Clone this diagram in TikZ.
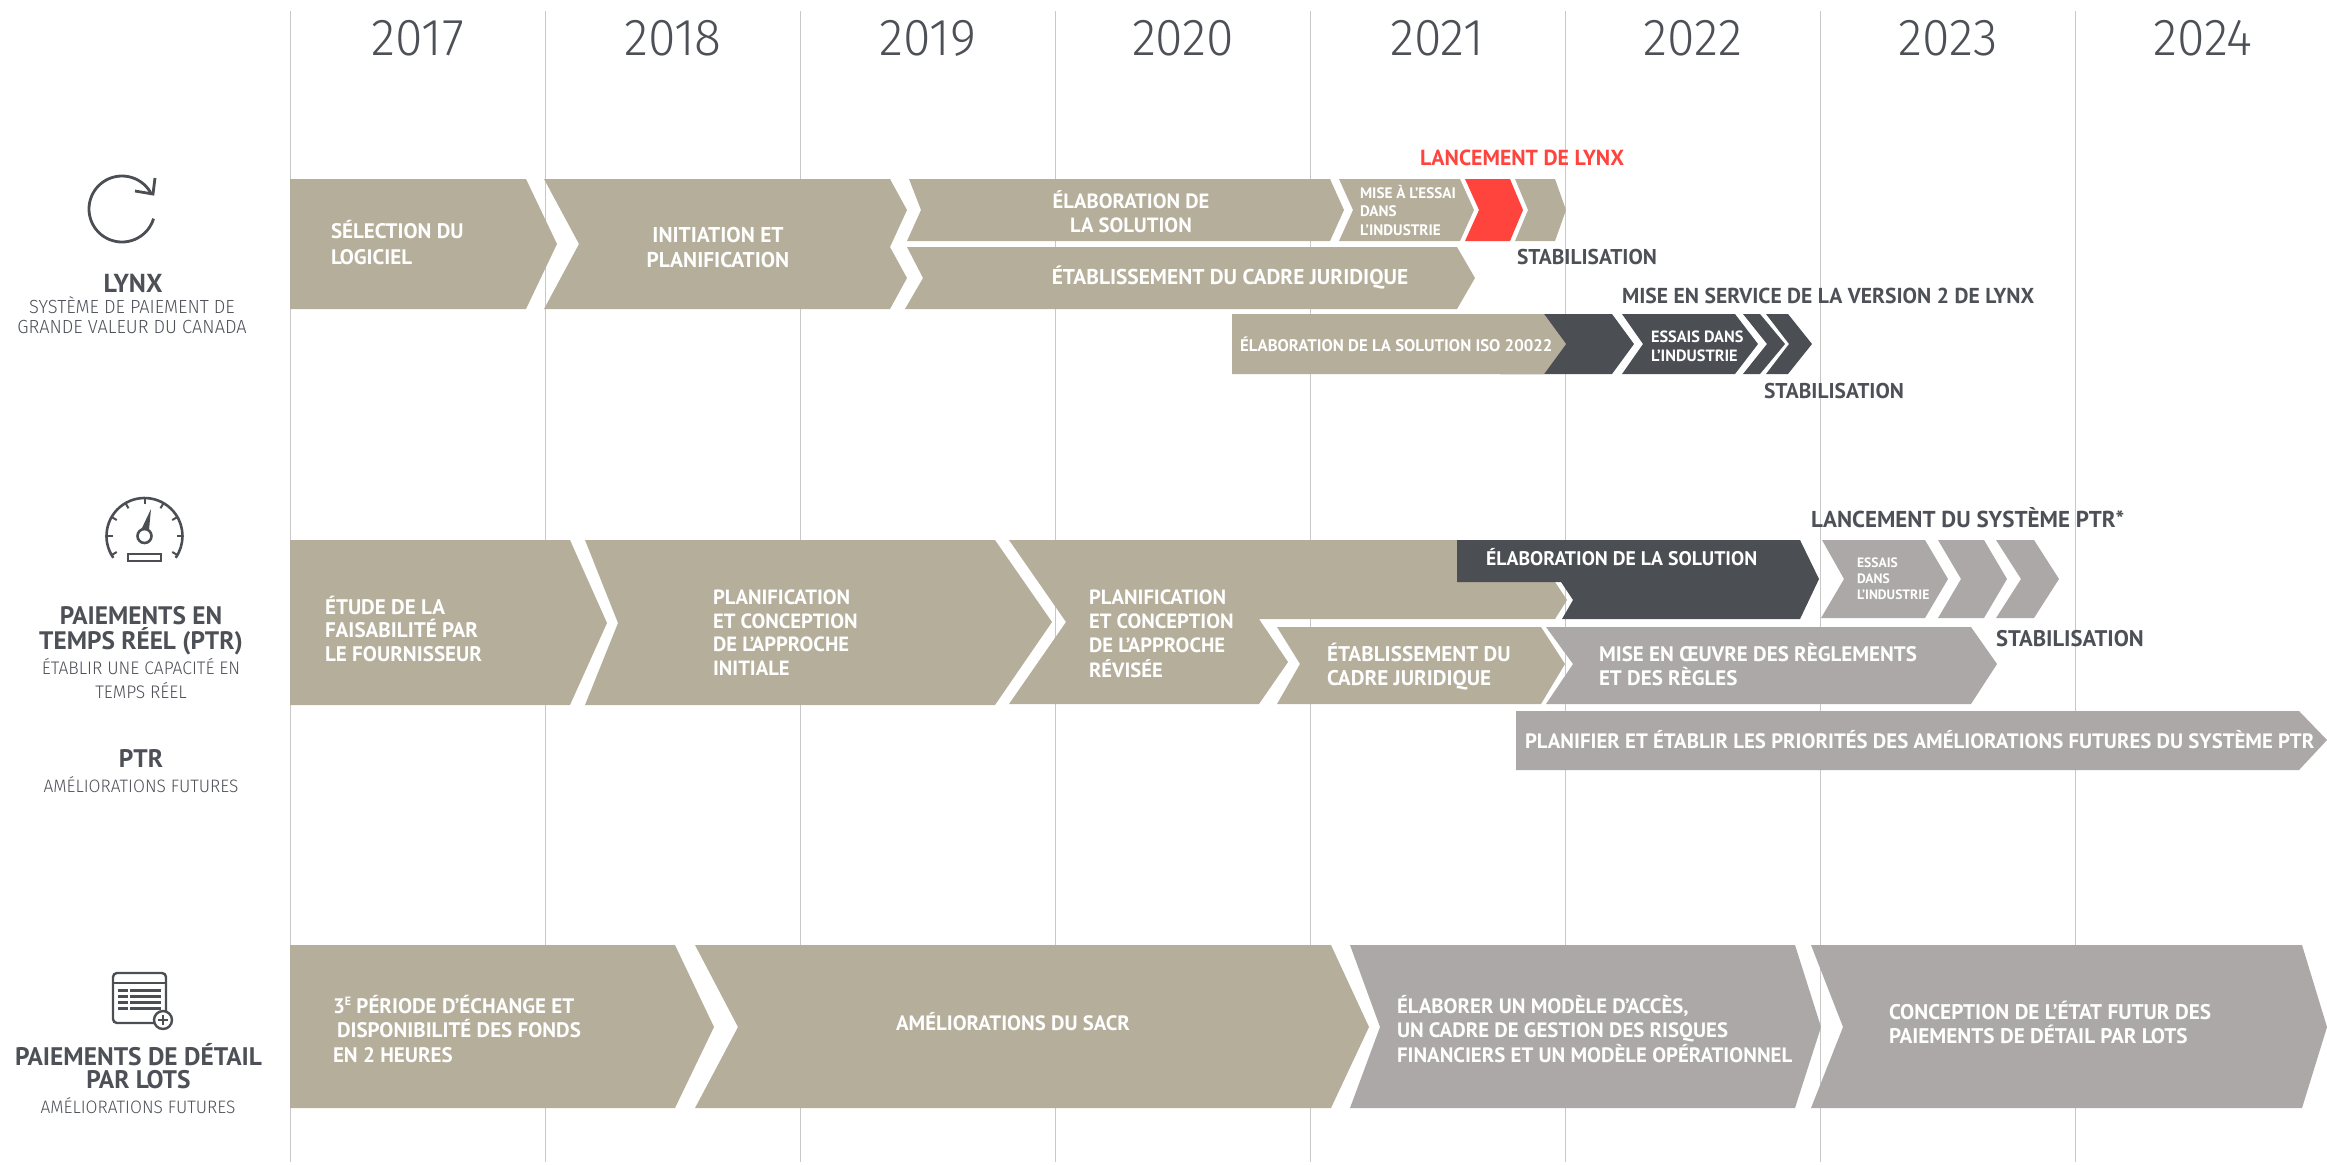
\documentclass[tikz,border=0pt]{standalone}
\usepackage{fontspec}
\setmainfont{PT Sans}
\newfontfamily\lightf[FakeStretch=0.96]{Fira Sans Light}
\definecolor{tan}{HTML}{B5AE9B}
\definecolor{gry}{HTML}{ACA8A7}
\definecolor{drk}{HTML}{4B4E53}
\definecolor{rdd}{HTML}{FF433D}
\definecolor{txt}{HTML}{4D5056}
\definecolor{grid}{HTML}{C8C8C8}
\newcommand\fb[2]{\fontsize{#1}{#2}\selectfont\bfseries}
\newcommand\fl[2]{\fontsize{#1}{#2}\selectfont\lightf}
\tikzset{
 x=0.5pt,y=-0.5pt,
 lab/.style={inner sep=0pt,outer sep=0pt,anchor=base west,align=left,text=white},
 ctr/.style={inner sep=0pt,outer sep=0pt,anchor=base,align=center,text=white},
 dlab/.style={lab,text=txt},
 side/.style={ctr,text=txt},
 year/.style={inner sep=0pt,anchor=base,text=txt,font=\fl{26}{26}},
 gridline/.style={draw=grid,line width=0.5pt},
 ico/.style={draw=drk,line width=1.2pt}
}
\begin{document}
\begin{tikzpicture}
\useasboundingbox (0,0) rectangle (2327,1164);
\foreach \x in {290,545,800.2,1055.4,1310.5,1565.7,1820.7,2075.5} \draw[gridline] (\x,11) -- (\x,1162);
\foreach \n/\x/\y in {a/418/2017,b/673/2018,c/928/2019,d/1183/2020,e/1437/2021,f/1693/2022,g/1948/2023,h/2203/2024}
  \node[year] (y\n) at (\x,55) {\y};
% LYNX row
\fill[tan] (290,179) -- (526,179) -- (557,244) -- (526,309) -- (290,309) -- cycle;
\fill[tan] (544,179) -- (890,179) -- (907,210) -- (890,247) -- (907,278) -- (890,309) -- (544,309) -- (579,244) -- cycle;
\fill[tan] (909,179) -- (1330,179) -- (1344,210) -- (1330,241) -- (907,241) -- (921,210) -- cycle;
\fill[tan] (1339,179) -- (1460,179) -- (1474,210) -- (1460,241) -- (1339,241) -- (1353,210) -- cycle;
\fill[rdd] (1465,179) -- (1510,179) -- (1523,210) -- (1510,241) -- (1465,241) -- (1479,210) -- cycle;
\fill[tan] (1515,179) -- (1555,179) -- (1566,210) -- (1555,241) -- (1515,241) -- (1528,210) -- cycle;
\fill[tan] (907,247) -- (1457,247) -- (1475,278) -- (1457,309) -- (905,309) -- (923,278) -- cycle;
\fill[drk] (1500,314) -- (1612,314) -- (1634,344) -- (1612,374) -- (1500,374) -- cycle;
\fill[tan] (1232,314) -- (1544,314) -- (1566,344) -- (1544,374) -- (1232,374) -- cycle;
\fill[drk] (1622,314) -- (1735,314) -- (1758,344) -- (1735,374) -- (1622,374) -- (1643,344) -- cycle;
\fill[drk] (1743,314) -- (1760,314) -- (1785,344) -- (1760,374) -- (1743,374) -- (1767,344) -- cycle;
\fill[drk] (1766,314) -- (1788,314) -- (1812,344) -- (1788,374) -- (1766,374) -- (1789,344) -- cycle;
% PTR row
\fill[tan] (290,540) -- (570,540) -- (607,623) -- (570,705) -- (290,705) -- cycle;
\fill[tan] (585,540) -- (995,540) -- (1052,622) -- (995,705) -- (585,705) -- (618,623) -- cycle;
\fill[tan] (1009,540) -- (1540,540) -- (1555,582) -- (1567,600) -- (1555,619) -- (1259,619) -- (1288,662) -- (1259,704) -- (1009,704) -- (1066,622) -- cycle;
\fill[tan] (1277,627) -- (1541,627) -- (1565,664) -- (1541,704) -- (1277,704) -- (1300,664) -- cycle;
\fill[drk] (1457,540) -- (1800,540) -- (1819,579) -- (1800,619) -- (1562,619) -- (1573,600) -- (1561,582) -- (1457,582) -- cycle;
\fill[gry] (1822,540) -- (1925,540) -- (1948,579) -- (1925,618) -- (1821,618) -- (1844,579) -- cycle;
\fill[gry] (1938,540) -- (1984,540) -- (2007,579) -- (1984,618) -- (1938,618) -- (1961,579) -- cycle;
\fill[gry] (1996,540) -- (2034,540) -- (2059,579) -- (2034,618) -- (1996,618) -- (2021,579) -- cycle;
\fill[gry] (1546,627) -- (1971,627) -- (1997,664) -- (1971,704) -- (1546,704) -- (1573,664) -- cycle;
\fill[gry] (1516,711) -- (2299,711) -- (2327,740) -- (2299,770) -- (1516,770) -- cycle;
% Bottom row
\fill[tan] (290,945) -- (675,945) -- (714,1027) -- (675,1108) -- (290,1108) -- cycle;
\fill[tan] (695,945) -- (1331,945) -- (1369,1027) -- (1331,1108) -- (695,1108) -- (738,1027) -- cycle;
\fill[gry] (1350,945) -- (1795,945) -- (1821,1027) -- (1795,1108) -- (1350,1108) -- (1380,1027) -- cycle;
\fill[gry] (1811,945) -- (2302,945) -- (2327,1027) -- (2302,1108) -- (1811,1108) -- (1843,1027) -- cycle;
% Texts on bars
\node[lab,font=\fb{10.5}{13}] (t1) at (331,264) {SÉLECTION DU\\LOGICIEL};
\node[ctr,font=\fb{10.7}{12.5}] (t2) at (718,267) {INITIATION ET\\PLANIFICATION};
\node[ctr,font=\fb{10.3}{12}] (t3) at (1131,232) {ÉLABORATION DE\\LA SOLUTION};
\node[lab,font=\fb{7.6}{9.2}] (t4) at (1360,235) {MISE À L’ESSAI\\DANS\\L’INDUSTRIE};
\node[ctr,font=\fb{10.7}{12}] (t5) at (1230,284) {ÉTABLISSEMENT DU CADRE JURIDIQUE};
\node[lab,font=\fb{8.4}{12}] (t6) at (1240,351) {ÉLABORATION DE LA SOLUTION ISO 20022};
\node[lab,font=\fb{8.15}{9.5}] (t7) at (1651,361) {ESSAIS DANS\\L’INDUSTRIE};
\node[lab,font=\fb{10.55}{11.75}] (t8) at (325,661) {ÉTUDE DE LA\\FAISABILITÉ PAR\\LE FOURNISSEUR};
\node[lab,font=\fb{10.3}{11.7}] (t9) at (713,675) {PLANIFICATION\\ET CONCEPTION\\DE L’APPROCHE\\INITIALE};
\node[lab,font=\fb{10.3}{12.1}] (t10) at (1089,677) {PLANIFICATION\\ET CONCEPTION\\DE L’APPROCHE\\RÉVISÉE};
\node[lab,font=\fb{10.6}{12}] (t11) at (1327,685) {ÉTABLISSEMENT DU\\CADRE JURIDIQUE};
\node[lab,font=\fb{9.85}{12}] (t12) at (1486,565) {ÉLABORATION DE LA SOLUTION};
\node[lab,font=\fb{6.8}{8}] (t13) at (1857,599) {ESSAIS\\DANS\\L’INDUSTRIE};
\node[lab,font=\fb{10.5}{12}] (t14) at (1599,685) {MISE EN ŒUVRE DES RÈGLEMENTS\\ET DES RÈGLES};
\node[lab,font=\fb{10.4}{12}] (t15) at (1525,748) {PLANIFIER ET ÉTABLIR LES PRIORITÉS DES AMÉLIORATIONS FUTURES DU SYSTÈME PTR};
\node[lab,font=\fb{10.5}{12.2}] (t16) at (333,1062) {3\raisebox{0.35em}{\fontsize{6}{6}\selectfont E} PÉRIODE D’ÉCHANGE ET\\\hspace*{2pt}DISPONIBILITÉ DES FONDS\\EN 2 HEURES};
\node[ctr,font=\fb{10.4}{12}] (t17) at (1013,1030) {AMÉLIORATIONS DU SACR};
\node[lab,font=\fb{10.4}{12.2}] (t18) at (1397,1062) {ÉLABORER UN MODÈLE D’ACCÈS,\\UN CADRE DE GESTION DES RISQUES\\FINANCIERS ET UN MODÈLE OPÉRATIONNEL};
\node[lab,font=\fb{10.6}{12}] (t19) at (1889,1043) {CONCEPTION DE L’ÉTAT FUTUR DES\\PAIEMENTS DE DÉTAIL PAR LOTS};
% Dark labels
\node[lab,text=rdd,font=\fb{10.9}{12}] (m1) at (1420,165) {LANCEMENT DE LYNX};
\node[dlab,font=\fb{10.7}{12}] (m2) at (1517,264) {STABILISATION};
\node[dlab,font=\fb{10.8}{12}] (m3) at (1622,303) {MISE EN SERVICE DE LA VERSION 2 DE LYNX};
\node[dlab,font=\fb{10.7}{12}] (m4) at (1764,398) {STABILISATION};
\node[dlab,font=\fb{11.5}{12}] (m5) at (1811,527) {LANCEMENT DU SYSTÈME PTR*};
\node[dlab,font=\fb{11.3}{12}] (m6) at (1996,646) {STABILISATION};
% Side labels
\node[side,font=\fb{13}{12}] (s1) at (133,292) {LYNX};
\node[side,font=\fl{9.5}{9.8}] (s2) at (132,333) {SYSTÈME DE PAIEMENT DE\\GRANDE VALEUR DU CANADA};
\node[side,font=\fb{12.65}{12.5}] (s3) at (141,649) {PAIEMENTS EN\\TEMPS RÉEL (PTR)};
\node[side,font=\fl{9.1}{12}] (s4) at (141,698) {ÉTABLIR UNE CAPACITÉ EN\\TEMPS RÉEL};
\node[side,font=\fb{12.7}{12}] (s5) at (141,767) {PTR};
\node[side,font=\fl{9}{12}] (s6) at (141,792) {AMÉLIORATIONS FUTURES};
\node[side,font=\fb{12.7}{11.5}] (s7) at (138.5,1088) {PAIEMENTS DE DÉTAIL\\PAR LOTS};
\node[side,font=\fl{9}{12}] (s8) at (138,1113) {AMÉLIORATIONS FUTURES};
% Icons
\draw[ico,line width=1.4pt] (122,209) ++(17:33) arc[start angle=17,end angle=334,radius=33];
\draw[ico,line width=1.4pt] (155,178) -- (153,194) -- (135,191);
\draw[ico,line width=1.3pt] (144.5,536) ++(145:38) arc[start angle=145,end angle=395,radius=38];
\foreach \a in {150,180,210,240,270,300,330,0,30} \draw[ico,line width=1pt] (144.5,536) ++(\a:38) -- ++(\a+180:6);
\draw[ico,line width=1.3pt] (144.5,536) circle[radius=7];
\fill[drk] (151,509) -- (141,530) -- (149,530) -- cycle;
\draw[ico,line width=1pt] (128,554) rectangle (160.7,560.7);
\draw[ico,rounded corners=2pt] (113,973) rectangle (166,1023);
\draw[ico] (113,983) -- (166,983);
\foreach \y in {990,996,1002,1008} {\fill[drk] (118,\y-1.5) rectangle (127.5,\y+1.5); \fill[drk] (130,\y-1.5) rectangle (161,\y+1.5);}
\draw[ico,fill=white] (163,1020) circle[radius=9];
\draw[ico,line width=0.8pt] (158,1020) -- (168,1020) (163,1015) -- (163,1025);
\end{tikzpicture}
\end{document}
